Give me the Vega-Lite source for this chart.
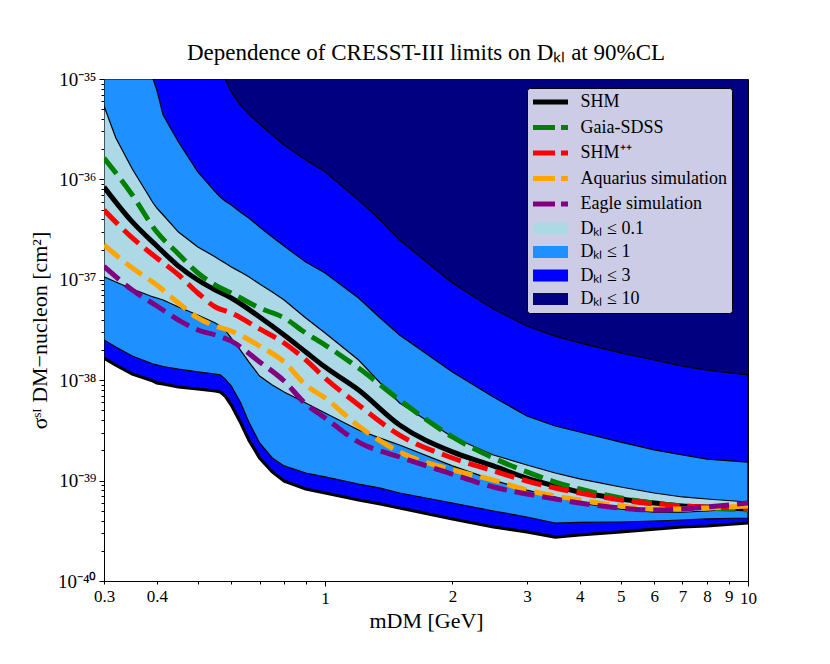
{
"$schema": "https://vega.github.io/schema/vega-lite/v6.json",
"width": 644, "height": 502,
"autosize": {"type": "none"},
"padding": {"left": 104, "top": 79, "right": 82, "bottom": 83},
"background": "white",
"title": {"text": "Dependence of CRESST-III limits on Dₖₗ at 90%CL", "font": "Liberation Serif", "fontSize": 23, "fontWeight": "normal", "color": "black", "anchor": "middle", "offset": 5},
"config": {"font": "Liberation Serif", "view": {"stroke": "black", "strokeWidth": 1}},
"datasets": {
"bands": [
{"s":"Dₖₗ ≤ 10","m":0.3,"v":1.66e-38,"v2":1e-35},{"s":"Dₖₗ ≤ 10","m":0.32,"v":1.41e-38,"v2":1e-35},{"s":"Dₖₗ ≤ 10","m":0.35,"v":1.15e-38,"v2":1e-35},{"s":"Dₖₗ ≤ 10","m":0.392,"v":9.82e-39,"v2":1e-35},{"s":"Dₖₗ ≤ 10","m":0.4,"v":9.38e-39,"v2":1e-35},{"s":"Dₖₗ ≤ 10","m":0.414,"v":9.16e-39,"v2":1e-35},{"s":"Dₖₗ ≤ 10","m":0.45,"v":8.55e-39,"v2":1e-35},{"s":"Dₖₗ ≤ 10","m":0.5,"v":8.17e-39,"v2":1e-35},{"s":"Dₖₗ ≤ 10","m":0.55,"v":7.80e-39,"v2":1e-35},{"s":"Dₖₗ ≤ 10","m":0.565,"v":7.62e-39,"v2":1e-35},{"s":"Dₖₗ ≤ 10","m":0.58,"v":6.97e-39,"v2":1e-35},{"s":"Dₖₗ ≤ 10","m":0.6,"v":5.66e-39,"v2":1e-35},{"s":"Dₖₗ ≤ 10","m":0.63,"v":3.84e-39,"v2":1e-35},{"s":"Dₖₗ ≤ 10","m":0.66,"v":2.54e-39,"v2":1e-35},{"s":"Dₖₗ ≤ 10","m":0.7,"v":1.68e-39,"v2":1e-35},{"s":"Dₖₗ ≤ 10","m":0.75,"v":1.22e-39,"v2":1e-35},{"s":"Dₖₗ ≤ 10","m":0.8,"v":9.91e-40,"v2":1e-35},{"s":"Dₖₗ ≤ 10","m":0.9,"v":8.24e-40,"v2":1e-35},{"s":"Dₖₗ ≤ 10","m":1.0,"v":7.52e-40,"v2":1e-35},{"s":"Dₖₗ ≤ 10","m":1.2,"v":6.41e-40,"v2":1e-35},{"s":"Dₖₗ ≤ 10","m":1.35,"v":5.85e-40,"v2":1e-35},{"s":"Dₖₗ ≤ 10","m":1.5,"v":5.33e-40,"v2":1e-35},{"s":"Dₖₗ ≤ 10","m":2,"v":4.15e-40,"v2":1e-35},{"s":"Dₖₗ ≤ 10","m":2.5,"v":3.45e-40,"v2":1e-35},{"s":"Dₖₗ ≤ 10","m":3,"v":3.08e-40,"v2":1e-35},{"s":"Dₖₗ ≤ 10","m":3.5,"v":2.74e-40,"v2":1e-35},{"s":"Dₖₗ ≤ 10","m":4,"v":2.87e-40,"v2":1e-35},{"s":"Dₖₗ ≤ 10","m":5,"v":3.08e-40,"v2":1e-35},{"s":"Dₖₗ ≤ 10","m":6,"v":3.29e-40,"v2":1e-35},{"s":"Dₖₗ ≤ 10","m":7,"v":3.45e-40,"v2":1e-35},{"s":"Dₖₗ ≤ 10","m":8,"v":3.53e-40,"v2":1e-35},{"s":"Dₖₗ ≤ 10","m":10,"v":3.78e-40,"v2":1e-35},
{"s":"Dₖₗ ≤ 3","m":0.3,"v":1.66e-38,"v2":1e-35},{"s":"Dₖₗ ≤ 3","m":0.32,"v":1.41e-38,"v2":1e-35},{"s":"Dₖₗ ≤ 3","m":0.35,"v":1.15e-38,"v2":1e-35},{"s":"Dₖₗ ≤ 3","m":0.392,"v":9.82e-39,"v2":1e-35},{"s":"Dₖₗ ≤ 3","m":0.4,"v":9.38e-39,"v2":1e-35},{"s":"Dₖₗ ≤ 3","m":0.414,"v":9.16e-39,"v2":1e-35},{"s":"Dₖₗ ≤ 3","m":0.45,"v":8.55e-39,"v2":1e-35},{"s":"Dₖₗ ≤ 3","m":0.5,"v":8.17e-39,"v2":1e-35},{"s":"Dₖₗ ≤ 3","m":0.55,"v":7.80e-39,"v2":1e-35},{"s":"Dₖₗ ≤ 3","m":0.565,"v":7.62e-39,"v2":1e-35},{"s":"Dₖₗ ≤ 3","m":0.58,"v":6.97e-39,"v2":1e-35},{"s":"Dₖₗ ≤ 3","m":0.6,"v":5.66e-39,"v2":7.43e-36},{"s":"Dₖₗ ≤ 3","m":0.63,"v":3.84e-39,"v2":5.51e-36},{"s":"Dₖₗ ≤ 3","m":0.66,"v":2.54e-39,"v2":4.48e-36},{"s":"Dₖₗ ≤ 3","m":0.7,"v":1.68e-39,"v2":3.56e-36},{"s":"Dₖₗ ≤ 3","m":0.75,"v":1.22e-39,"v2":2.77e-36},{"s":"Dₖₗ ≤ 3","m":0.8,"v":9.91e-40,"v2":2.20e-36},{"s":"Dₖₗ ≤ 3","m":0.9,"v":8.24e-40,"v2":1.56e-36},{"s":"Dₖₗ ≤ 3","m":1.0,"v":7.52e-40,"v2":1.19e-36},{"s":"Dₖₗ ≤ 3","m":1.2,"v":6.41e-40,"v2":6.24e-37},{"s":"Dₖₗ ≤ 3","m":1.35,"v":5.85e-40,"v2":3.94e-37},{"s":"Dₖₗ ≤ 3","m":1.5,"v":5.33e-40,"v2":2.49e-37},{"s":"Dₖₗ ≤ 3","m":2,"v":4.15e-40,"v2":9.29e-38},{"s":"Dₖₗ ≤ 3","m":2.5,"v":3.45e-40,"v2":5.12e-38},{"s":"Dₖₗ ≤ 3","m":3,"v":3.08e-40,"v2":3.47e-38},{"s":"Dₖₗ ≤ 3","m":3.5,"v":2.74e-40,"v2":2.75e-38},{"s":"Dₖₗ ≤ 3","m":4,"v":2.87e-40,"v2":2.35e-38},{"s":"Dₖₗ ≤ 3","m":5,"v":3.08e-40,"v2":1.87e-38},{"s":"Dₖₗ ≤ 3","m":6,"v":3.29e-40,"v2":1.59e-38},{"s":"Dₖₗ ≤ 3","m":7,"v":3.45e-40,"v2":1.38e-38},{"s":"Dₖₗ ≤ 3","m":8,"v":3.53e-40,"v2":1.26e-38},{"s":"Dₖₗ ≤ 3","m":10,"v":3.78e-40,"v2":1.13e-38},
{"s":"Dₖₗ ≤ 1","m":0.3,"v":2.51e-38,"v2":1e-35},{"s":"Dₖₗ ≤ 1","m":0.32,"v":2.14e-38,"v2":1e-35},{"s":"Dₖₗ ≤ 1","m":0.35,"v":1.74e-38,"v2":1e-35},{"s":"Dₖₗ ≤ 1","m":0.392,"v":1.45e-38,"v2":1e-35},{"s":"Dₖₗ ≤ 1","m":0.4,"v":1.42e-38,"v2":7.76e-36},{"s":"Dₖₗ ≤ 1","m":0.414,"v":1.37e-38,"v2":4.38e-36},{"s":"Dₖₗ ≤ 1","m":0.45,"v":1.29e-38,"v2":2.36e-36},{"s":"Dₖₗ ≤ 1","m":0.5,"v":1.21e-38,"v2":1.19e-36},{"s":"Dₖₗ ≤ 1","m":0.55,"v":1.15e-38,"v2":7.50e-37},{"s":"Dₖₗ ≤ 1","m":0.565,"v":1.13e-38,"v2":6.68e-37},{"s":"Dₖₗ ≤ 1","m":0.58,"v":1.03e-38,"v2":6.10e-37},{"s":"Dₖₗ ≤ 1","m":0.6,"v":8.75e-39,"v2":5.56e-37},{"s":"Dₖₗ ≤ 1","m":0.63,"v":6.07e-39,"v2":4.73e-37},{"s":"Dₖₗ ≤ 1","m":0.66,"v":3.84e-39,"v2":4.13e-37},{"s":"Dₖₗ ≤ 1","m":0.7,"v":2.37e-39,"v2":3.36e-37},{"s":"Dₖₗ ≤ 1","m":0.75,"v":1.68e-39,"v2":2.67e-37},{"s":"Dₖₗ ≤ 1","m":0.8,"v":1.40e-39,"v2":2.17e-37},{"s":"Dₖₗ ≤ 1","m":0.9,"v":1.19e-39,"v2":1.50e-37},{"s":"Dₖₗ ≤ 1","m":1.0,"v":1.09e-39,"v2":1.17e-37},{"s":"Dₖₗ ≤ 1","m":1.2,"v":9.25e-40,"v2":6.59e-38},{"s":"Dₖₗ ≤ 1","m":1.35,"v":8.43e-40,"v2":4.17e-38},{"s":"Dₖₗ ≤ 1","m":1.5,"v":7.52e-40,"v2":2.82e-38},{"s":"Dₖₗ ≤ 1","m":2,"v":5.98e-40,"v2":1.21e-38},{"s":"Dₖₗ ≤ 1","m":2.5,"v":4.98e-40,"v2":6.81e-39},{"s":"Dₖₗ ≤ 1","m":3,"v":4.34e-40,"v2":4.40e-39},{"s":"Dₖₗ ≤ 1","m":3.5,"v":3.78e-40,"v2":3.50e-39},{"s":"Dₖₗ ≤ 1","m":4,"v":3.83e-40,"v2":3.05e-39},{"s":"Dₖₗ ≤ 1","m":5,"v":3.87e-40,"v2":2.42e-39},{"s":"Dₖₗ ≤ 1","m":6,"v":3.96e-40,"v2":2.02e-39},{"s":"Dₖₗ ≤ 1","m":7,"v":4.05e-40,"v2":1.80e-39},{"s":"Dₖₗ ≤ 1","m":8,"v":4.15e-40,"v2":1.64e-39},{"s":"Dₖₗ ≤ 1","m":10,"v":4.24e-40,"v2":1.53e-39},
{"s":"Dₖₗ ≤ 0.1","m":0.3,"v":1.07e-37,"v2":5.38e-36},{"s":"Dₖₗ ≤ 0.1","m":0.32,"v":9.51e-38,"v2":2.58e-36},{"s":"Dₖₗ ≤ 0.1","m":0.35,"v":8.09e-38,"v2":1.27e-36},{"s":"Dₖₗ ≤ 0.1","m":0.392,"v":6.75e-38,"v2":5.82e-37},{"s":"Dₖₗ ≤ 0.1","m":0.4,"v":6.59e-38,"v2":5.19e-37},{"s":"Dₖₗ ≤ 0.1","m":0.414,"v":6.30e-38,"v2":4.42e-37},{"s":"Dₖₗ ≤ 0.1","m":0.45,"v":5.36e-38,"v2":2.99e-37},{"s":"Dₖₗ ≤ 0.1","m":0.5,"v":4.46e-38,"v2":2.12e-37},{"s":"Dₖₗ ≤ 0.1","m":0.55,"v":3.72e-38,"v2":1.69e-37},{"s":"Dₖₗ ≤ 0.1","m":0.565,"v":3.47e-38,"v2":1.57e-37},{"s":"Dₖₗ ≤ 0.1","m":0.58,"v":3.16e-38,"v2":1.47e-37},{"s":"Dₖₗ ≤ 0.1","m":0.6,"v":2.63e-38,"v2":1.34e-37},{"s":"Dₖₗ ≤ 0.1","m":0.63,"v":2.00e-38,"v2":1.20e-37},{"s":"Dₖₗ ≤ 0.1","m":0.66,"v":1.52e-38,"v2":1.07e-37},{"s":"Dₖₗ ≤ 0.1","m":0.7,"v":1.10e-38,"v2":9.08e-38},{"s":"Dₖₗ ≤ 0.1","m":0.75,"v":8.95e-39,"v2":7.55e-38},{"s":"Dₖₗ ≤ 0.1","m":0.8,"v":7.62e-39,"v2":6.30e-38},{"s":"Dₖₗ ≤ 0.1","m":0.9,"v":5.93e-39,"v2":4.17e-38},{"s":"Dₖₗ ≤ 0.1","m":1.0,"v":4.71e-39,"v2":2.95e-38},{"s":"Dₖₗ ≤ 0.1","m":1.2,"v":3.19e-39,"v2":1.59e-38},{"s":"Dₖₗ ≤ 0.1","m":1.35,"v":2.65e-39,"v2":9.38e-39},{"s":"Dₖₗ ≤ 0.1","m":1.5,"v":2.26e-39,"v2":5.93e-39},{"s":"Dₖₗ ≤ 0.1","m":2,"v":1.40e-39,"v2":2.72e-39},{"s":"Dₖₗ ≤ 0.1","m":2.5,"v":1.01e-39,"v2":1.80e-39},{"s":"Dₖₗ ≤ 0.1","m":3,"v":8.05e-40,"v2":1.43e-39},{"s":"Dₖₗ ≤ 0.1","m":3.5,"v":6.87e-40,"v2":1.19e-39},{"s":"Dₖₗ ≤ 0.1","m":4,"v":5.98e-40,"v2":1.04e-39},{"s":"Dₖₗ ≤ 0.1","m":5,"v":5.21e-40,"v2":8.63e-40},{"s":"Dₖₗ ≤ 0.1","m":6,"v":4.86e-40,"v2":7.52e-40},{"s":"Dₖₗ ≤ 0.1","m":7,"v":4.86e-40,"v2":6.87e-40},{"s":"Dₖₗ ≤ 0.1","m":8,"v":4.98e-40,"v2":6.56e-40},{"s":"Dₖₗ ≤ 0.1","m":10,"v":5.33e-40,"v2":6.12e-40}
],
"lines": [
{"s":"SHM","m":0.3,"v":8.39e-37},{"s":"SHM","m":0.35,"v":3.77e-37},{"s":"SHM","m":0.4,"v":2.17e-37},{"s":"SHM","m":0.45,"v":1.37e-37},{"s":"SHM","m":0.5,"v":9.95e-38},{"s":"SHM","m":0.55,"v":7.91e-38},{"s":"SHM","m":0.6,"v":6.59e-38},{"s":"SHM","m":0.7,"v":4.26e-38},{"s":"SHM","m":0.8,"v":2.82e-38},{"s":"SHM","m":0.9,"v":1.91e-38},{"s":"SHM","m":1,"v":1.35e-38},{"s":"SHM","m":1.2,"v":7.98e-39},{"s":"SHM","m":1.5,"v":3.58e-39},{"s":"SHM","m":2,"v":1.93e-39},{"s":"SHM","m":2.5,"v":1.40e-39},{"s":"SHM","m":3,"v":1.06e-39},{"s":"SHM","m":3.5,"v":8.83e-40},{"s":"SHM","m":4,"v":7.69e-40},{"s":"SHM","m":5,"v":6.56e-40},{"s":"SHM","m":6,"v":5.98e-40},{"s":"SHM","m":7,"v":5.58e-40},{"s":"SHM","m":8,"v":5.46e-40},{"s":"SHM","m":10,"v":5.21e-40},
{"s":"Gaia-SDSS","m":0.3,"v":1.63e-36},{"s":"Gaia-SDSS","m":0.35,"v":7.00e-37},{"s":"Gaia-SDSS","m":0.4,"v":2.99e-37},{"s":"Gaia-SDSS","m":0.45,"v":1.81e-37},{"s":"Gaia-SDSS","m":0.5,"v":1.17e-37},{"s":"Gaia-SDSS","m":0.55,"v":8.87e-38},{"s":"Gaia-SDSS","m":0.6,"v":7.39e-38},{"s":"Gaia-SDSS","m":0.7,"v":5.24e-38},{"s":"Gaia-SDSS","m":0.8,"v":4.17e-38},{"s":"Gaia-SDSS","m":0.9,"v":2.95e-38},{"s":"Gaia-SDSS","m":1,"v":2.24e-38},{"s":"Gaia-SDSS","m":1.2,"v":1.32e-38},{"s":"Gaia-SDSS","m":1.5,"v":6.35e-39},{"s":"Gaia-SDSS","m":2,"v":2.72e-39},{"s":"Gaia-SDSS","m":2.5,"v":1.68e-39},{"s":"Gaia-SDSS","m":3,"v":1.22e-39},{"s":"Gaia-SDSS","m":3.5,"v":9.68e-40},{"s":"Gaia-SDSS","m":4,"v":8.24e-40},{"s":"Gaia-SDSS","m":5,"v":6.71e-40},{"s":"Gaia-SDSS","m":6,"v":5.98e-40},{"s":"Gaia-SDSS","m":7,"v":5.58e-40},{"s":"Gaia-SDSS","m":8,"v":5.33e-40},{"s":"Gaia-SDSS","m":10,"v":5.09e-40},
{"s":"SHM⁺⁺","m":0.3,"v":4.95e-37},{"s":"SHM⁺⁺","m":0.35,"v":2.61e-37},{"s":"SHM⁺⁺","m":0.4,"v":1.65e-37},{"s":"SHM⁺⁺","m":0.45,"v":1.12e-37},{"s":"SHM⁺⁺","m":0.5,"v":7.39e-38},{"s":"SHM⁺⁺","m":0.55,"v":5.36e-38},{"s":"SHM⁺⁺","m":0.6,"v":4.67e-38},{"s":"SHM⁺⁺","m":0.7,"v":3.24e-38},{"s":"SHM⁺⁺","m":0.8,"v":2.35e-38},{"s":"SHM⁺⁺","m":0.9,"v":1.59e-38},{"s":"SHM⁺⁺","m":1,"v":1.05e-38},{"s":"SHM⁺⁺","m":1.2,"v":5.66e-39},{"s":"SHM⁺⁺","m":1.5,"v":2.84e-39},{"s":"SHM⁺⁺","m":2,"v":1.68e-39},{"s":"SHM⁺⁺","m":2.5,"v":1.25e-39},{"s":"SHM⁺⁺","m":3,"v":9.91e-40},{"s":"SHM⁺⁺","m":3.5,"v":8.43e-40},{"s":"SHM⁺⁺","m":4,"v":7.52e-40},{"s":"SHM⁺⁺","m":5,"v":6.41e-40},{"s":"SHM⁺⁺","m":6,"v":5.85e-40},{"s":"SHM⁺⁺","m":7,"v":5.58e-40},{"s":"SHM⁺⁺","m":8,"v":5.46e-40},{"s":"SHM⁺⁺","m":10,"v":5.33e-40},
{"s":"Aquarius simulation","m":0.3,"v":2.22e-37},{"s":"Aquarius simulation","m":0.35,"v":1.31e-37},{"s":"Aquarius simulation","m":0.4,"v":8.87e-38},{"s":"Aquarius simulation","m":0.45,"v":5.87e-38},{"s":"Aquarius simulation","m":0.5,"v":4.17e-38},{"s":"Aquarius simulation","m":0.55,"v":3.47e-38},{"s":"Aquarius simulation","m":0.6,"v":3.09e-38},{"s":"Aquarius simulation","m":0.7,"v":2.19e-38},{"s":"Aquarius simulation","m":0.8,"v":1.52e-38},{"s":"Aquarius simulation","m":0.9,"v":8.95e-39},{"s":"Aquarius simulation","m":1,"v":6.65e-39},{"s":"Aquarius simulation","m":1.2,"v":3.50e-39},{"s":"Aquarius simulation","m":1.5,"v":1.93e-39},{"s":"Aquarius simulation","m":2,"v":1.28e-39},{"s":"Aquarius simulation","m":2.5,"v":1.01e-39},{"s":"Aquarius simulation","m":3,"v":8.05e-40},{"s":"Aquarius simulation","m":3.5,"v":7.03e-40},{"s":"Aquarius simulation","m":4,"v":6.41e-40},{"s":"Aquarius simulation","m":5,"v":5.58e-40},{"s":"Aquarius simulation","m":6,"v":5.21e-40},{"s":"Aquarius simulation","m":7,"v":5.21e-40},{"s":"Aquarius simulation","m":8,"v":5.33e-40},{"s":"Aquarius simulation","m":10,"v":5.58e-40},
{"s":"Eagle simulation","m":0.3,"v":1.36e-37},{"s":"Eagle simulation","m":0.35,"v":7.91e-38},{"s":"Eagle simulation","m":0.4,"v":5.48e-38},{"s":"Eagle simulation","m":0.45,"v":3.98e-38},{"s":"Eagle simulation","m":0.5,"v":3.16e-38},{"s":"Eagle simulation","m":0.55,"v":2.82e-38},{"s":"Eagle simulation","m":0.6,"v":2.45e-38},{"s":"Eagle simulation","m":0.7,"v":1.52e-38},{"s":"Eagle simulation","m":0.8,"v":9.82e-39},{"s":"Eagle simulation","m":0.9,"v":5.79e-39},{"s":"Eagle simulation","m":1,"v":4.21e-39},{"s":"Eagle simulation","m":1.2,"v":2.42e-39},{"s":"Eagle simulation","m":1.5,"v":1.72e-39},{"s":"Eagle simulation","m":2,"v":1.16e-39},{"s":"Eagle simulation","m":2.5,"v":8.63e-40},{"s":"Eagle simulation","m":3,"v":7.36e-40},{"s":"Eagle simulation","m":3.5,"v":6.56e-40},{"s":"Eagle simulation","m":4,"v":5.98e-40},{"s":"Eagle simulation","m":5,"v":5.33e-40},{"s":"Eagle simulation","m":6,"v":5.09e-40},{"s":"Eagle simulation","m":7,"v":5.21e-40},{"s":"Eagle simulation","m":8,"v":5.46e-40},{"s":"Eagle simulation","m":10,"v":5.98e-40}
]
},
"encoding": {
"x": {"field": "m", "type": "quantitative", "title": "mDM [GeV]",
 "scale": {"type": "log", "domain": [0.3, 10], "nice": false},
 "axis": {"values": [0.3,0.4,0.5,0.6,0.7,0.8,0.9,1,2,3,4,5,6,7,8,9,10], "format": "~g",
  "labelExpr": "(datum.value > 0.45 && datum.value < 0.95) ? '' : datum.label",
  "tickSize": {"condition": {"test": "datum.value == 1 || datum.value == 10", "value": 5}, "value": 3},
  "grid": false, "labelFont": "Liberation Serif", "labelFontSize": 17, "labelColor": "black", "tickColor": "black", "domainColor": "black", "labelPadding": 4, "labelOverlap": false, "labelFlush": false,
  "titleFont": "Liberation Serif", "titleFontSize": 22, "titleFontWeight": "normal", "titleColor": "black", "titlePadding": 4}},
"y": {"field": "v", "type": "quantitative", "title": "σˢᴵ DM−nucleon [cm²]",
 "scale": {"type": "log", "domain": [1e-40, 1e-35], "nice": false},
 "axis": {"values": [1e-40,2e-40,3e-40,4e-40,5e-40,6e-40,7e-40,8e-40,9e-40,1e-39,2e-39,3e-39,4e-39,5e-39,6e-39,7e-39,8e-39,9e-39,1e-38,2e-38,3e-38,4e-38,5e-38,6e-38,7e-38,8e-38,9e-38,1e-37,2e-37,3e-37,4e-37,5e-37,6e-37,7e-37,8e-37,9e-37,1e-36,2e-36,3e-36,4e-36,5e-36,6e-36,7e-36,8e-36,9e-36,1e-35],
  "labelExpr": "abs(log(datum.value)/LN10 - round(log(datum.value)/LN10)) > 0.001 ? '' : round(log(datum.value)/LN10) == -35 ? '10⁻³⁵' : round(log(datum.value)/LN10) == -36 ? '10⁻³⁶' : round(log(datum.value)/LN10) == -37 ? '10⁻³⁷' : round(log(datum.value)/LN10) == -38 ? '10⁻³⁸' : round(log(datum.value)/LN10) == -39 ? '10⁻³⁹' : '10⁻⁴⁰'",
  "tickSize": {"condition": {"test": "abs(log(datum.value)/LN10 - round(log(datum.value)/LN10)) < 0.001", "value": 5}, "value": 3},
  "grid": false, "labelFont": "Liberation Serif", "labelFontSize": 19, "labelColor": "black", "tickColor": "black", "domainColor": "black", "labelPadding": 3, "labelOverlap": false, "labelFlush": false,
  "titleFont": "Liberation Serif", "titleFontSize": 22, "titleFontWeight": "normal", "titleColor": "black", "titlePadding": 6}},
"color": {"field": "s", "type": "nominal",
 "scale": {"domain": ["SHM","Gaia-SDSS","SHM⁺⁺","Aquarius simulation","Eagle simulation","Dₖₗ ≤ 0.1","Dₖₗ ≤ 1","Dₖₗ ≤ 3","Dₖₗ ≤ 10"],
  "range": ["black","green","red","orange","purple","lightblue","dodgerblue","blue","navy"]},
 "legend": {"orient": "none", "legendX": 423, "legendY": 9, "title": null,
  "fillColor": "rgba(255,255,255,0.8)", "strokeColor": "black", "padding": 5, "cornerRadius": 3,
  "labelFont": "Liberation Serif", "labelFontSize": 18, "labelColor": "black", "labelLimit": 300,
  "symbolSize": 400, "rowPadding": 5.5, "labelOffset": 21, "symbolOffset": 9.5,
  "encode": {"symbols": {"update": {
   "shape": {"signal": "indexof(['SHM','Gaia-SDSS','SHM⁺⁺','Aquarius simulation','Eagle simulation'], datum.value) >= 0 ? 'M-1.75,0H1.75' : 'M-1.75,-0.6H1.75V0.6H-1.75Z'"},
   "strokeDash": {"signal": "datum.value == 'SHM' ? [] : [22,6]"},
   "strokeWidth": {"signal": "indexof(['SHM','Gaia-SDSS','SHM⁺⁺','Aquarius simulation','Eagle simulation'], datum.value) >= 0 ? 5 : 0"},
   "stroke": {"signal": "indexof(['SHM','Gaia-SDSS','SHM⁺⁺','Aquarius simulation','Eagle simulation'], datum.value) >= 0 ? scale('color', datum.value) : 'transparent'"},
   "fill": {"signal": "indexof(['SHM','Gaia-SDSS','SHM⁺⁺','Aquarius simulation','Eagle simulation'], datum.value) >= 0 ? 'transparent' : scale('color', datum.value)"},
   "opacity": {"value": 1}}}}}}
},
"layer": [
{"data": {"name": "bands"}, "transform": [{"filter": "datum.s == 'Dₖₗ ≤ 10'"}], "mark": {"type": "area", "clip": true, "opacity": 1}, "encoding": {"y2": {"field": "v2"}}},
{"data": {"name": "bands"}, "transform": [{"filter": "datum.s == 'Dₖₗ ≤ 3'"}], "mark": {"type": "area", "clip": true, "opacity": 1, "stroke": "black", "strokeWidth": 1.2}, "encoding": {"y2": {"field": "v2"}}},
{"data": {"name": "bands"}, "transform": [{"filter": "datum.s == 'Dₖₗ ≤ 1'"}], "mark": {"type": "area", "clip": true, "opacity": 1, "stroke": "black", "strokeWidth": 1.2}, "encoding": {"y2": {"field": "v2"}}},
{"data": {"name": "bands"}, "transform": [{"filter": "datum.s == 'Dₖₗ ≤ 0.1'"}], "mark": {"type": "area", "clip": true, "opacity": 1, "stroke": "black", "strokeWidth": 1.2}, "encoding": {"y2": {"field": "v2"}}},
{"data": {"name": "bands"}, "transform": [{"filter": "datum.s == 'Dₖₗ ≤ 10'"}], "mark": {"type": "line", "clip": true, "strokeWidth": 3.2}, "encoding": {"color": {"value": "black"}}},
{"data": {"name": "lines"}, "transform": [{"filter": "datum.s == 'SHM'"}], "mark": {"type": "line", "clip": true, "strokeWidth": 5, "interpolate": "monotone"}},
{"data": {"name": "lines"}, "transform": [{"filter": "datum.s == 'Gaia-SDSS'"}], "mark": {"type": "line", "clip": true, "strokeWidth": 5, "strokeDash": [20, 8], "interpolate": "monotone"}},
{"data": {"name": "lines"}, "transform": [{"filter": "datum.s == 'SHM⁺⁺'"}], "mark": {"type": "line", "clip": true, "strokeWidth": 5, "strokeDash": [20, 8], "interpolate": "monotone"}},
{"data": {"name": "lines"}, "transform": [{"filter": "datum.s == 'Aquarius simulation'"}], "mark": {"type": "line", "clip": true, "strokeWidth": 5, "strokeDash": [20, 8], "interpolate": "monotone"}},
{"data": {"name": "lines"}, "transform": [{"filter": "datum.s == 'Eagle simulation'"}], "mark": {"type": "line", "clip": true, "strokeWidth": 5, "strokeDash": [20, 8], "interpolate": "monotone"}}
]
}
